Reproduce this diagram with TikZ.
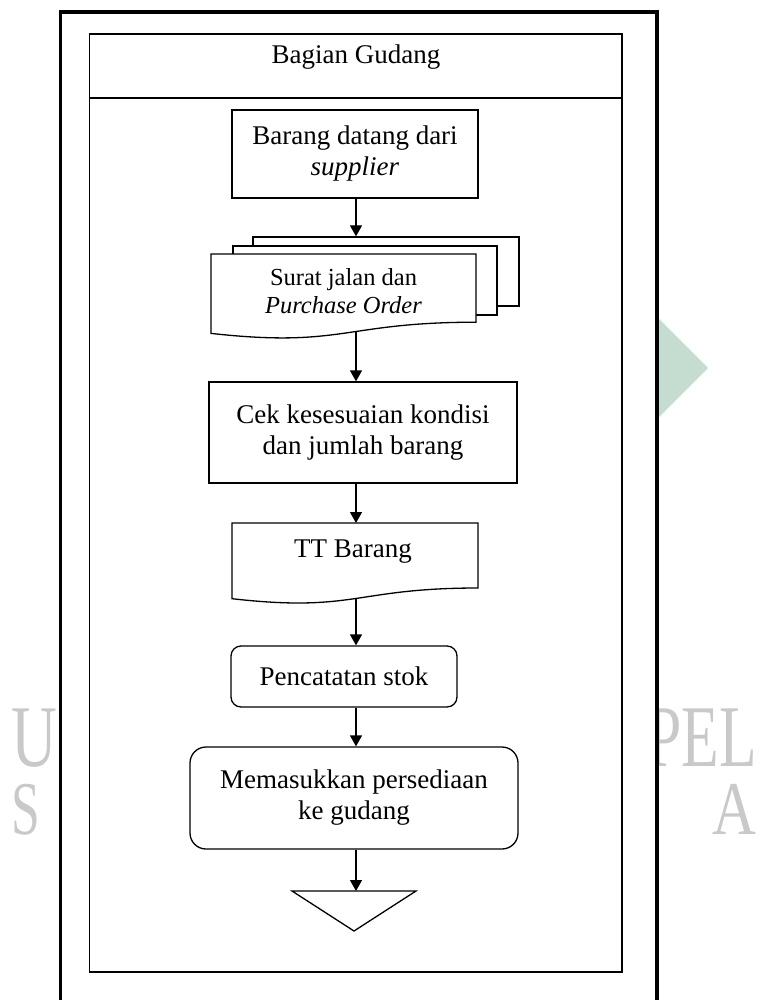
\documentclass[tikz,border=0pt]{standalone}
\usepackage{fontspec}
\setmainfont{Liberation Serif}
\usetikzlibrary{arrows.meta,calc}

\newcommand\txtbig{\fontsize{27}{31}\selectfont}
\newcommand\txtsmall{\fontsize{24.5}{28}\selectfont}
\newcommand\wmbig{\fontsize{88}{88}\selectfont}
\newcommand\wmlines{\fontsize{76}{68}\selectfont}

\definecolor{wmgrey}{HTML}{C9C9C9}
\definecolor{wmgreen}{HTML}{C4DDD0}

\tikzset{
  flowline/.style={line width=1.3pt, draw=black, line join=miter},
  arr/.style={line width=1.3pt, draw=black, -{Triangle[width=12pt,length=11pt]}},
  procbox/.style={flowline, fill=white, rectangle, inner sep=0pt, align=center, font=\txtbig},
  roundbox/.style={procbox, rounded corners=#1},
  page/.style={flowline, fill=white, rectangle, inner sep=0pt},
  plaintext/.style={inner sep=0pt, align=center},
  wmtext/.style={text=wmgrey, inner sep=0pt, font=\wmlines}
}

\begin{document}
\begin{tikzpicture}[x=1pt, y=-1pt]
\useasboundingbox (0,0) rectangle (762,1000);
\clip (0,0) rectangle (762,1000);

% faint background logo and lettering
\fill[wmgreen] (650,310) -- (708,368) -- (650,426) -- (592,368) -- cycle;
\node[wmtext, align=left, anchor=north west] (wmLeft) at (11,709)
  {{\wmbig\scalebox{0.72}[1]{U}}\\\scalebox{0.68}[1]{S}};
\node[wmtext, align=right, anchor=north west] (wmRight) at (647,709)
  {{\wmbig\scalebox{0.7}[1]{PEL}}\\\scalebox{0.8}[1]{A}};

% page frame
\draw[line width=3.8pt, fill=white] (60.5,12) rectangle (657,1012);

% swimlane
\node[draw, line width=1.5pt, rectangle, inner sep=0pt,
      minimum width=532.5pt, minimum height=938pt] (lane) at (355.75,503) {};
\draw[line width=1.5pt] ($(lane.north west)+(0,65)$) -- ($(lane.north east)+(0,65)$);
\node[plaintext, font=\txtbig, anchor=base] (title) at (356,64) {Bagian Gudang};

\coordinate (col) at (356,0);

% 1. goods arrive
\node[procbox, minimum width=246pt, minimum height=88pt] (n1) at (355,154)
  {Barang datang dari\\\textit{supplier}};

% 2. multiple documents
\node[page, minimum width=266pt, minimum height=69pt] (pg3) at (386,271.5) {};
\node[page, minimum width=264pt, minimum height=69pt] (pg2) at (365,280.5) {};
\draw[flowline, fill=white] (211,254) -- (476,254) -- (476,322.2)
  .. controls (343.5,322.2) and (343.5,348.1) .. (211,333.4)
  coordinate[pos=0.45] (docAout) -- cycle;
\node[plaintext, font=\txtsmall] (docA) at (343.5,291)
  {Surat jalan dan\\\textit{Purchase Order}};

% 3. check
\node[procbox, minimum width=308pt, minimum height=101pt] (n3) at (363,432.5)
  {Cek kesesuaian kondisi\\dan jumlah barang};

% 4. receipt document
\coordinate (ttTop) at (355,523);
\draw[flowline, fill=white] (232,523) -- (478,523) -- (478,588)
  .. controls (355,588) and (355,612.7) .. (232,598.7)
  coordinate[pos=0.5] (ttOut) -- cycle;
\node[plaintext, font=\txtbig, anchor=base] (tt) at (353,557) {TT Barang};

% 5. stock record
\node[roundbox=10pt, minimum width=226pt, minimum height=61pt] (n5) at (344,676.5)
  {Pencatatan stok};

% 6. store goods
\node[roundbox=16pt, minimum width=328pt, minimum height=102pt] (n6) at (354,798)
  {Memasukkan persediaan\\ke gudang};

% 7. storage
\draw[flowline, fill=white] (292,891) -- (416,891) -- (354,931) -- cycle;
\coordinate (stor) at (354,891);

% connectors
\draw[arr] (col |- n1.south) -- (col |- pg3.north);
\draw[arr] (col |- docAout) -- (col |- n3.north);
\draw[arr] (col |- n3.south) -- (col |- ttTop);
\draw[arr] (col |- ttOut) -- (col |- n5.north);
\draw[arr] (col |- n5.south) -- (col |- n6.north);
\draw[arr] (col |- n6.south) -- (col |- stor);
\end{tikzpicture}
\end{document}
